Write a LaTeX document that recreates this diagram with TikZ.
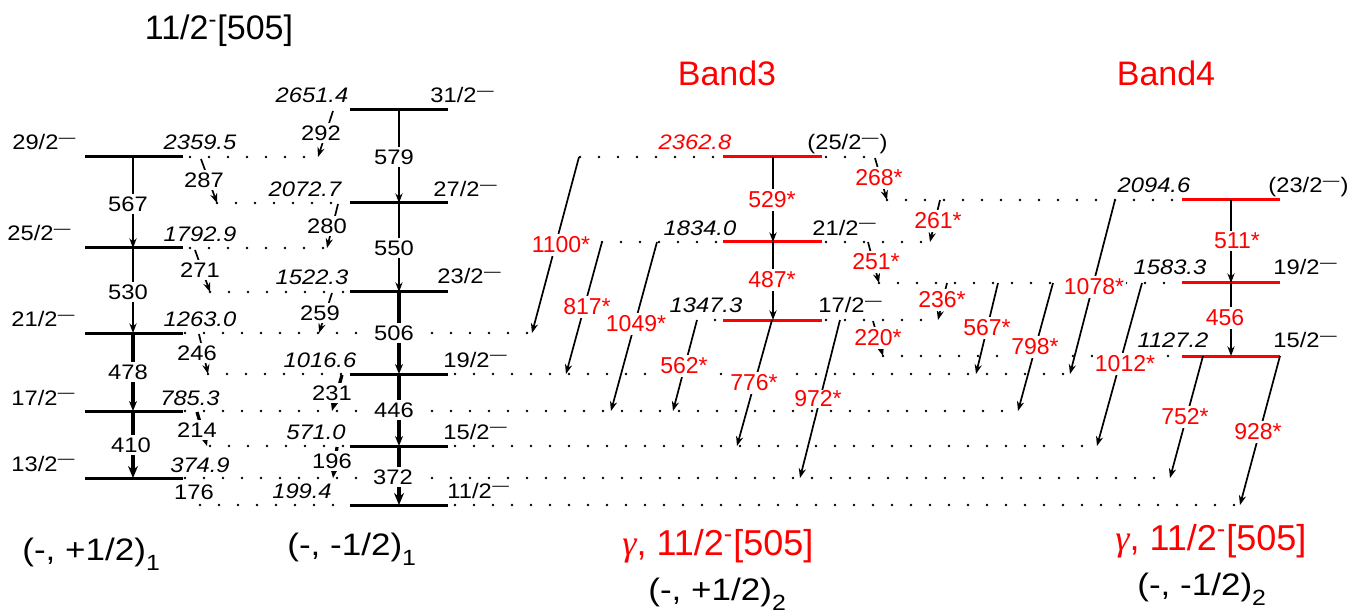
\documentclass[tikz,border=0pt]{standalone}
\usepackage{fontspec}
\setmainfont{Liberation Sans}
\newfontfamily\blk[FakeStretch=1.13]{Liberation Sans}
\newfontfamily\gam{Liberation Serif}
\usetikzlibrary{arrows.meta}
\newcommand\mn{\textsuperscript{\kern0.03em—}}
\begin{document}
\begin{tikzpicture}[x=0.5pt,y=-0.5pt,
  lev/.style={line width=1.5pt},
  rlev/.style={line width=1.5pt,draw=red},
  dotrow/.style={line width=1.4pt,line cap=round,dash pattern=on 0pt off 9.5pt},
  tr/.style={line width=0.85pt,-{Stealth[length=4.8pt,width=3.6pt]}},
  trk/.style={line width=1.6pt,-{Stealth[length=5pt,width=4pt]}},
  trkk/.style={line width=2.1pt,-{Stealth[length=6pt,width=5pt]}},
  bl/.style={font=\blk\fontsize{10.5}{12}\selectfont,inner sep=0pt},
  en/.style={font=\blk\itshape\fontsize{10.5}{12}\selectfont,inner sep=0pt,anchor=base},
  tl/.style={font=\blk\fontsize{10.5}{12}\selectfont,fill=white,inner sep=1.5pt},
  rl/.style={font=\fontsize{11.5}{13}\selectfont,text=red,fill=white,inner sep=1.2pt},
  big/.style={font=\fontsize{17}{20}\selectfont,inner sep=0pt},
  bot/.style={font=\blk\fontsize{15.5}{18}\selectfont,inner sep=0pt,anchor=base west},
  gl/.style={font=\fontsize{18}{21}\selectfont,text=red,inner sep=0pt,anchor=base west}]
\useasboundingbox (0,0) rectangle (1362,615);

% dotted extensions of the levels
\foreach \xa/\xb/\yy in {190/318/157, 580/720/157, 826/873/157, 217/347/203, 887/1180/200,
  190/327/248, 602/720/242, 826/930/242, 210/347/292, 879/1180/283, 185/532/333,
  715/720/320, 826/938/320, 883/1180/356, 208/348/374, 455/1070/374, 185/1017/411,
  210/348/446, 455/1097/446, 185/1170/478, 200/348/505, 455/1240/505}
  \draw[dotrow] (\xa,\yy) -- (\xb,\yy);

% ---------- band 1 ----------
\foreach \yy in {157,248,333,411,478} \draw[lev] (85,\yy) -- (183,\yy);
\coordinate (a29) at (133,157); \coordinate (a25) at (133,248);
\coordinate (a21) at (133,333); \coordinate (a17) at (133,411);
\coordinate (a13) at (133,478);
\draw[tr] (a29) -- (a25);
\draw[tr] (a25) -- (a21);
\draw[trk] (a21) -- (a17);
\draw[trkk] (a17) -- (a13);
\node[tl] (l567) at (128,204) {567};
\node[tl] (l530) at (128,292) {530};
\node[tl] (l478) at (128,372) {478};
\node[tl] (l410) at (131,445) {410};
\node[bl,anchor=base east] (s29) at (77,150) {29/2\mn};
\node[bl,anchor=base east] (s25) at (72,241) {25/2\mn};
\node[bl,anchor=base east] (s21) at (76,327) {21/2\mn};
\node[bl,anchor=base east] (s17) at (76,405) {17/2\mn};
\node[bl,anchor=base east] (s13) at (76,471) {13/2\mn};
\node[en] (e29) at (200,150) {2359.5};
\node[en] (e25) at (200,242) {1792.9};
\node[en] (e21) at (200,327) {1263.0};
\node[en] (e17) at (190,405) {785.3};
\node[en] (e13) at (200,472) {374.9};

% ---------- band 2 ----------
\foreach \yy in {110,203,292,374,446,505} \draw[lev] (350,\yy) -- (448,\yy);
\coordinate (b31) at (399,110); \coordinate (b27) at (399,203);
\coordinate (b23) at (399,292); \coordinate (b19) at (399,374);
\coordinate (b15) at (399,446); \coordinate (b11) at (399,505);
\draw[tr] (b31) -- (b27);
\draw[tr] (b27) -- (b23);
\draw[trk] (b23) -- (b19);
\draw[trk] (b19) -- (b15);
\draw[trkk] (b15) -- (b11);
\node[tl] (l579) at (394,157) {579};
\node[tl] (l550) at (394,248) {550};
\node[tl] (l506) at (394,333) {506};
\node[tl] (l446) at (394,410) {446};
\node[tl] (l372) at (393,477) {372};
\node[bl,anchor=base west] (s31) at (430,103) {31/2\mn};
\node[bl,anchor=base west] (s27) at (433,197) {27/2\mn};
\node[bl,anchor=base west] (s23) at (437,284) {23/2\mn};
\node[bl,anchor=base west] (s19) at (443,367) {19/2\mn};
\node[bl,anchor=base west] (s15) at (443,439) {15/2\mn};
\node[bl,anchor=base west] (s11) at (447,498) {11/2\mn};
\node[en] (e31) at (312,103) {2651.4};
\node[en] (e27) at (305,197) {2072.7};
\node[en] (e23) at (312,285) {1522.3};
\node[en] (e19) at (320,367) {1016.6};
\node[en] (e15) at (316,439) {571.0};
\node[en] (e11) at (302,498) {199.4};

% ---------- interband transitions, bands 1 and 2 ----------
\coordinate (i292a) at (333,111); \coordinate (i292b) at (318,157);
\coordinate (i287a) at (201,159); \coordinate (i287b) at (217,203);
\coordinate (i280a) at (338,204); \coordinate (i280b) at (327,248);
\coordinate (i271a) at (195,250); \coordinate (i271b) at (210,292);
\coordinate (i259a) at (332,293); \coordinate (i259b) at (319,333);
\coordinate (i246a) at (199,334); \coordinate (i246b) at (208,374);
\coordinate (i231a) at (342,375); \coordinate (i231b) at (332,411);
\coordinate (i214a) at (197,412); \coordinate (i214b) at (207,446);
\coordinate (i196a) at (337,447); \coordinate (i196b) at (333,478);
\draw[tr] (i292a) -- (i292b);
\draw[tr] (i287a) -- (i287b);
\draw[tr] (i280a) -- (i280b);
\draw[tr] (i271a) -- (i271b);
\draw[tr] (i259a) -- (i259b);
\draw[tr] (i246a) -- (i246b);
\draw[trk] (i231a) -- (i231b);
\draw[trk] (i214a) -- (i214b);
\draw[trk] (i196a) -- (i196b);
\node[tl] (l292) at (321,133) {292};
\node[tl] (l287) at (204,180) {287};
\node[tl] (l280) at (327,226) {280};
\node[tl] (l271) at (200,270) {271};
\node[tl] (l259) at (320,313) {259};
\node[tl] (l246) at (197,353) {246};
\node[tl] (l231) at (332,393) {231};
\node[tl] (l214) at (197,430) {214};
\node[tl] (l196) at (332,461) {196};
\node[tl] (l176) at (194,492) {176};

% ---------- band 3 ----------
\foreach \yy in {157,242,320} \draw[rlev] (723,\yy) -- (822,\yy);
\coordinate (c25) at (773,157); \coordinate (c21) at (773,242); \coordinate (c17) at (773,320);
\draw[tr] (c25) -- (c21);
\draw[tr] (c21) -- (c17);
\node[rl] (l529) at (772,200) {529*};
\node[rl] (l487) at (772,280) {487*};
\node[en,text=red] (e3a) at (695,150) {2362.8};
\node[en] (e3b) at (700,235) {1834.0};
\node[en] (e3c) at (706,313) {1347.3};
\node[bl,anchor=base west] (s3a) at (807,150) {(25/2\mn)};
\node[bl,anchor=base west] (s3b) at (812,235) {21/2\mn};
\node[bl,anchor=base west] (s3c) at (818,313) {17/2\mn};

% ---------- band 4 ----------
\foreach \yy in {200,283,356} \draw[rlev] (1182,\yy) -- (1280,\yy);
\coordinate (d23) at (1231,200); \coordinate (d19) at (1231,283); \coordinate (d15) at (1231,356);
\draw[tr] (d23) -- (d19);
\draw[tr] (d19) -- (d15);
\node[rl] (l511) at (1237,241) {511*};
\node[rl] (l456) at (1225,318) {456};
\node[en] (e4a) at (1154,193) {2094.6};
\node[en] (e4b) at (1170,275) {1583.3};
\node[en] (e4c) at (1173,348) {1127.2};
\node[bl,anchor=base west] (s4a) at (1268,193) {(23/2\mn)};
\node[bl,anchor=base west] (s4b) at (1273,275) {19/2\mn};
\node[bl,anchor=base west] (s4c) at (1273,348) {15/2\mn};

% ---------- decays out of bands 3 and 4 ----------
\coordinate (o1100a) at (579,157);  \coordinate (o1100b) at (532,333);
\coordinate (o817a)  at (602,242);  \coordinate (o817b)  at (566,374);
\coordinate (o1049a) at (657,242);  \coordinate (o1049b) at (611,411);
\coordinate (o562a)  at (697,320);  \coordinate (o562b)  at (673,411);
\coordinate (o776a)  at (772,320);  \coordinate (o776b)  at (737,446);
\coordinate (o972a)  at (840,320);  \coordinate (o972b)  at (800,478);
\coordinate (o268a)  at (875,158);  \coordinate (o268b)  at (887,200);
\coordinate (o261a)  at (940,200);  \coordinate (o261b)  at (930,242);
\coordinate (o251a)  at (868,242);  \coordinate (o251b)  at (879,283);
\coordinate (o236a)  at (947,283);  \coordinate (o236b)  at (938,320);
\coordinate (o220a)  at (873,321);  \coordinate (o220b)  at (883,356);
\coordinate (o567a)  at (998,283);  \coordinate (o567b)  at (976,374);
\coordinate (o798a)  at (1053,283); \coordinate (o798b)  at (1018,411);
\coordinate (o1078a) at (1115,200); \coordinate (o1078b) at (1070,374);
\coordinate (o1012a) at (1142,283); \coordinate (o1012b) at (1097,446);
\coordinate (o752a)  at (1203,356); \coordinate (o752b)  at (1170,478);
\coordinate (o928a)  at (1280,356); \coordinate (o928b)  at (1240,505);
\foreach \t in {1100,817,1049,562,776,972,268,261,251,236,220,567,798,1078,1012,752,928}
  \draw[tr] (o\t a) -- (o\t b);
\node[rl] (l1100) at (561,245) {1100*};
\node[rl] (l817)  at (587,307) {817*};
\node[rl] (l1049) at (636,324) {1049*};
\node[rl] (l562)  at (684,366) {562*};
\node[rl] (l776)  at (754,383) {776*};
\node[rl,inner sep=0.6pt] (l972)  at (818,399) {972*};
\node[rl] (l268)  at (879,178) {268*};
\node[rl] (l261)  at (938,221) {261*};
\node[rl] (l251)  at (876,262) {251*};
\node[rl] (l236)  at (942,300) {236*};
\node[rl] (l220)  at (878,338) {220*};
\node[rl] (l567)  at (987,328) {567*};
\node[rl] (l798)  at (1035,347) {798*};
\node[rl] (l1078) at (1094,287) {1078*};
\node[rl] (l1012) at (1125,364) {1012*};
\node[rl] (l752)  at (1185,417) {752*};
\node[rl] (l928)  at (1258,432) {928*};

% ---------- titles ----------
\node[big] (t1) at (219,31) {11/2\textsuperscript{-}[505]};
\node[big,text=red] (t3) at (727,73) {Band3};
\node[big,text=red] (t4) at (1166,73) {Band4};
\node[bot] (p1) at (22,560) {(-, +1/2)\raisebox{-0.35em}{\fontsize{11}{12}\selectfont 1}};
\node[bot] (p2) at (287,555) {(-, -1/2)\raisebox{-0.35em}{\fontsize{11}{12}\selectfont 1}};
\node[gl] (g1) at (622,555) {{\gam\itshape γ}, 11/2\textsuperscript{-}[505]};
\node[bot] (p3) at (648,600) {(-, +1/2)\raisebox{-0.35em}{\fontsize{11}{12}\selectfont 2}};
\node[gl] (g2) at (1115,550) {{\gam\itshape γ}, 11/2\textsuperscript{-}[505]};
\node[bot] (p4) at (1137,595) {(-, -1/2)\raisebox{-0.35em}{\fontsize{11}{12}\selectfont 2}};
\end{tikzpicture}
\end{document}
